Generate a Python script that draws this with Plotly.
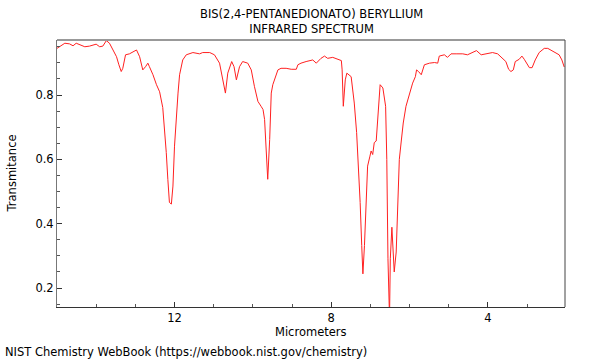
import plotly.graph_objects as go

# Spectrum (micrometers, transmittance)
wavelength_um = [
    15.00, 14.93, 14.80, 14.68, 14.59, 14.51, 14.38, 14.29, 14.17, 14.00,
    13.91, 13.83, 13.74, 13.66, 13.57, 13.48, 13.42, 13.36, 13.32, 13.25,
    13.15, 13.02, 12.97, 12.89, 12.81, 12.74, 12.68, 12.64, 12.55, 12.46,
    12.38, 12.30, 12.25, 12.21, 12.17, 12.13, 12.08, 12.04, 12.00, 11.95,
    11.91, 11.87, 11.79, 11.70, 11.53, 11.36, 11.28, 11.10, 10.98, 10.85,
    10.77, 10.70, 10.64, 10.54, 10.48, 10.42, 10.34, 10.26, 10.13, 10.04,
    9.96, 9.87, 9.79, 9.74, 9.70, 9.66, 9.62, 9.57, 9.53, 9.49,
    9.45, 9.36, 9.28, 9.15, 9.02, 8.89, 8.85, 8.77, 8.64, 8.47,
    8.38, 8.26, 8.17, 8.09, 7.96, 7.83, 7.74, 7.72, 7.69, 7.64,
    7.60, 7.49, 7.45, 7.41, 7.35, 7.30, 7.26, 7.22, 7.19, 7.15,
    7.11, 7.07, 7.01, 6.98, 6.94, 6.90, 6.85, 6.81, 6.75, 6.68,
    6.61, 6.58, 6.55, 6.51, 6.49, 6.45, 6.43, 6.39, 6.34, 6.30,
    6.26, 6.21, 6.16, 6.09, 6.00, 5.92, 5.85, 5.82, 5.77, 5.70,
    5.62, 5.49, 5.36, 5.28, 5.24, 5.11, 5.03, 4.94, 4.81, 4.64,
    4.52, 4.39, 4.29, 4.17, 4.05, 3.88, 3.75, 3.62, 3.54, 3.47,
    3.41, 3.35, 3.30, 3.20, 3.13, 3.07, 3.03, 2.94, 2.87, 2.79,
    2.69, 2.56, 2.47, 2.39, 2.26, 2.18, 2.11, 2.05,
]
transmittance = [
    0.945, 0.950, 0.961, 0.959, 0.953, 0.961, 0.955, 0.950, 0.952, 0.958,
    0.950, 0.952, 0.969, 0.961, 0.940, 0.919, 0.894, 0.873, 0.883, 0.925,
    0.928, 0.935, 0.940, 0.919, 0.878, 0.888, 0.899, 0.888, 0.863, 0.832,
    0.810, 0.761, 0.693, 0.621, 0.538, 0.466, 0.461, 0.517, 0.641, 0.744,
    0.806, 0.863, 0.909, 0.925, 0.932, 0.928, 0.932, 0.932, 0.925, 0.899,
    0.847, 0.806, 0.868, 0.904, 0.888, 0.847, 0.888, 0.904, 0.899, 0.878,
    0.827, 0.780, 0.765, 0.755, 0.724, 0.631, 0.538, 0.662, 0.806, 0.832,
    0.847, 0.878, 0.883, 0.883, 0.880, 0.880, 0.894, 0.899, 0.904, 0.909,
    0.899, 0.914, 0.921, 0.914, 0.917, 0.911, 0.907, 0.878, 0.765, 0.847,
    0.868, 0.857, 0.816, 0.775, 0.683, 0.569, 0.466, 0.332, 0.244, 0.332,
    0.476, 0.579, 0.610, 0.626, 0.615, 0.652, 0.657, 0.734, 0.832, 0.822,
    0.765, 0.600, 0.291, 0.105, 0.291, 0.389, 0.353, 0.250, 0.312, 0.466,
    0.600, 0.657, 0.713, 0.765, 0.807, 0.837, 0.857, 0.878, 0.873, 0.863,
    0.894, 0.899, 0.901, 0.899, 0.921, 0.925, 0.917, 0.928, 0.928, 0.928,
    0.925, 0.932, 0.938, 0.925, 0.928, 0.932, 0.928, 0.914, 0.904, 0.880,
    0.873, 0.878, 0.904, 0.911, 0.921, 0.911, 0.904, 0.885, 0.885, 0.909,
    0.932, 0.945, 0.945, 0.940, 0.932, 0.925, 0.909, 0.887,
]

title_lines = ["BIS(2,4-PENTANEDIONATO) BERYLLIUM", "INFRARED SPECTRUM"]
x_title = "Micrometers"
y_title = "Transmitance"
footer = "NIST Chemistry WebBook (https://webbook.nist.gov/chemistry)"

FONT = "DejaVu Sans"
FS = 11.5

fig = go.Figure()
fig.add_trace(go.Scatter(
    x=wavelength_um, y=transmittance, mode="lines",
    line=dict(color="#ff2020", width=1), hoverinfo="skip", showlegend=False,
))

fig.update_layout(
    width=600, height=360,
    margin=dict(l=57, r=35, t=40, b=53, autoexpand=False),
    paper_bgcolor="white", plot_bgcolor="white",
    font=dict(family=FONT, size=FS, color="black"),
    xaxis=dict(
        range=[15, 2.03], showgrid=False, zeroline=False, automargin=False,
        showline=True, linecolor="#333333", linewidth=1,
        tickmode="linear", tick0=0, dtick=4, ticks="inside", ticklen=5,
        tickcolor="#333333",
        minor=dict(dtick=1, tick0=0, ticks="inside", ticklen=3, tickcolor="#555555"),
        tickfont=dict(size=FS),
    ),
    yaxis=dict(
        range=[0.141, 0.971], showgrid=False, zeroline=False, automargin=False,
        showline=True, linecolor="#777777", linewidth=1,
        tickmode="linear", tick0=0, dtick=0.2, ticks="inside", ticklen=5,
        tickcolor="#333333",
        minor=dict(dtick=0.05, tick0=0, ticks="inside", ticklen=3, tickcolor="#555555"),
        tickfont=dict(size=FS),
    ),
    shapes=[
        dict(type="line", xref="paper", yref="paper", x0=0, x1=1, y0=1, y1=1,
             line=dict(color="#999999", width=2)),
        dict(type="line", xref="paper", yref="paper", x0=1, x1=1, y0=0, y1=1,
             line=dict(color="#444444", width=1)),
    ],
    annotations=[
        dict(text="<br>".join(title_lines), xref="paper", yref="paper",
             x=0.5, y=1.071, xanchor="center", yanchor="middle", showarrow=False,
             font=dict(family=FONT, size=FS)),
        dict(text=x_title, xref="paper", yref="paper", x=0.5, y=-0.094,
             xanchor="center", yanchor="middle", showarrow=False,
             font=dict(family=FONT, size=FS)),
        dict(text=y_title, xref="paper", yref="paper", x=-0.0886, y=0.5,
             xanchor="center", yanchor="middle", textangle=-90, showarrow=False,
             font=dict(family=FONT, size=FS)),
        dict(text=footer, xref="paper", yref="paper", x=-0.106, y=-0.1685,
             xanchor="left", yanchor="middle", showarrow=False,
             font=dict(family=FONT, size=FS)),
    ],
)

fig.write_html(
    "out.html",
    config={"displayModeBar": False},
    post_script="document.body.style.margin='0';document.body.style.overflow='hidden';",
)
